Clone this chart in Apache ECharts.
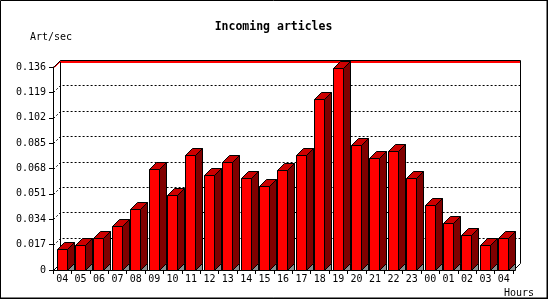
<!DOCTYPE html>
<html>
<head>
<meta charset="utf-8">
<script src="https://cdn.jsdelivr.net/npm/echarts@6/dist/echarts.min.js"></script>
<style>html,body{margin:0;padding:0;background:#fff}#c{width:550px;height:300px}</style>
</head>
<body>
<div id="c"></div>
<script>
const categories = ['04','05','06','07','08','09','10','11','12','13','14','15','16','17','18','19','20','21','22','23','00','01','02','03','04'];
const values = [0.0139, 0.0165, 0.0212, 0.0293, 0.0407, 0.0675, 0.0500, 0.0768, 0.0636, 0.0721, 0.0614, 0.0561, 0.0668, 0.0768, 0.1146, 0.1351, 0.0835, 0.0748, 0.0795, 0.0614, 0.0433, 0.0313, 0.0232, 0.0165, 0.0212];
const yMin = 0;
const yMax = 0.136;
const yStep = 0.017;
const gridTicks = [0.017, 0.034, 0.051, 0.068, 0.085, 0.102, 0.119];

const D = 7;
const FONT = '"DejaVu Sans Mono", monospace';
const r = x => Math.round(x) + 0.5;

const chart = echarts.init(document.getElementById('c'), null, {renderer: 'canvas'});

function gridRender(params, api) {
  const v = api.value(1);
  const p = api.coord([0, v]);
  const bw = api.size([1, 0])[0];
  const left = Math.round(p[0] - bw / 2);
  const right = Math.round(api.coord([categories.length - 1, v])[0] + bw / 2);
  const y = Math.round(p[1]);
  return {
    type: 'polyline',
    shape: {points: [[left + 0.5, y + 0.5], [left + D + 0.5, y - D + 0.5], [right + D + 0.5, y - D + 0.5]]},
    style: {stroke: '#000', fill: null, lineWidth: 1, lineDash: [2, 2]}
  };
}

function frameRender(params, api) {
  const bw = api.size([1, 0])[0];
  const pt = api.coord([0, yMax]);
  const pb = api.coord([0, yMin]);
  const left = Math.round(pt[0] - bw / 2);
  const right = Math.round(api.coord([categories.length - 1, yMax])[0] + bw / 2);
  const top = Math.round(pt[1]);
  const bot = Math.round(pb[1]);
  const ln = (x1, y1, x2, y2, c) => ({type: 'line', shape: {x1: x1, y1: y1, x2: x2, y2: y2}, style: {stroke: c || '#000', lineWidth: 1}});
  return {
    type: 'group',
    children: [
      ln(left + D + 0.5, bot - D + 0.5, left + D + 0.5, top - D + 0.5),
      ln(right + D + 0.5, bot - D + 0.5, right + D + 0.5, top - D + 0.5),
      ln(left + 1.5, top + 0.5, left + D + 1.5, top - D + 0.5, '#ff0000'),
      ln(left + 0.5, top + 0.5, left + D + 0.5, top - D + 0.5),
      ln(left + D + 0.5, top - D + 0.5, right + D + 0.5, top - D + 0.5),
      {type: 'rect', shape: {x: left + D + 1, y: top - D + 1, width: right - left - 1, height: 2}, style: {fill: '#ff0000', stroke: null}},
      ln(left + 0.5, bot + 0.5, left + D + 0.5, bot - D + 0.5),
      ln(right + 0.5, bot + 0.5, right + D + 0.5, bot - D + 0.5)
    ]
  };
}

function barRender(params, api) {
  const i = api.value(0);
  const v = api.value(1);
  const pt = api.coord([i, v]);
  const pb = api.coord([i, yMin]);
  const bw = api.size([1, 0])[0];
  const L = pt[0] - bw / 2;
  const x0 = r(L + 3.5);
  const x1 = x0 + 10;
  const yt = r(pt[1]);
  const yb = r(pb[1]);
  const st = {stroke: '#000', lineWidth: 1};
  return {
    type: 'group',
    children: [
      {type: 'polygon', shape: {points: [[x1, yb], [x1 + D, yb - D], [x1 + D, yb]]}, style: Object.assign({fill: '#8c8c8c'}, st)},
      {type: 'polygon', shape: {points: [[x1, yt], [x1 + D, yt - D], [x1 + D, yb - D], [x1, yb]]}, style: Object.assign({fill: '#800000'}, st)},
      {type: 'polygon', shape: {points: [[x0, yt], [x0 + D, yt - D], [x1 + D, yt - D], [x1, yt]]}, style: Object.assign({fill: '#cc0000'}, st)},
      {type: 'polygon', shape: {points: [[x0, yt], [x1, yt], [x1, yb], [x0, yb]]}, style: Object.assign({fill: '#ff0000'}, st)}
    ]
  };
}

const option = {
  animation: false,
  backgroundColor: '#ffffff',
  grid: {left: 53, right: 37, top: 67, bottom: 30, containLabel: false},
  xAxis: {
    type: 'category',
    data: categories,
    boundaryGap: true,
    axisLine: {show: true, lineStyle: {color: '#000', width: 1}},
    axisTick: {show: true, length: 4, lineStyle: {color: '#000'}},
    axisLabel: {color: '#000', fontFamily: FONT, fontSize: 10, margin: 4, interval: 0},
    splitLine: {show: false}
  },
  yAxis: {
    type: 'value',
    min: yMin,
    max: yMax,
    interval: yStep,
    axisLine: {show: true, lineStyle: {color: '#000', width: 1}},
    axisTick: {show: true, length: 4, lineStyle: {color: '#000'}},
    axisLabel: {color: '#000', fontFamily: FONT, fontSize: 10, margin: 7,
      formatter: v => (Math.abs(v) < 1e-9 ? '0' : v.toFixed(3))},
    splitLine: {show: false}
  },
  graphic: [
    {type: 'rect', shape: {x: 0.5, y: 0.5, width: 546.5, height: 297.5}, style: {fill: null, stroke: '#000', lineWidth: 1}, z: 100},
    {type: 'line', shape: {x1: 547.5, y1: 0, x2: 547.5, y2: 299}, style: {stroke: '#000', lineWidth: 1}, z: 100},
    {type: 'line', shape: {x1: 0, y1: 298.5, x2: 548, y2: 298.5}, style: {stroke: '#000', lineWidth: 1}, z: 100},
    {type: 'text', x: 273.5, y: 27, style: {text: 'Incoming articles', font: 'bold 11.5px ' + FONT, fill: '#000', textAlign: 'center', textVerticalAlign: 'middle'}},
    {type: 'text', x: 30, y: 37, style: {text: 'Art/sec', font: '10px ' + FONT, fill: '#000', textAlign: 'left', textVerticalAlign: 'middle'}},
    {type: 'text', x: 504, y: 293, style: {text: 'Hours', font: '10px ' + FONT, fill: '#000', textAlign: 'left', textVerticalAlign: 'middle'}}
  ],
  series: [
    {type: 'custom', name: 'grid', renderItem: gridRender, data: gridTicks.map(v => [0, v]), z: 1, clip: false, silent: true},
    {type: 'custom', name: 'frame', renderItem: frameRender, data: [[0, yMin]], z: 2, clip: false, silent: true},
    {type: 'custom', name: 'Art/sec', renderItem: barRender, data: values.map((v, i) => [i, v]), z: 3, clip: false}
  ]
};
chart.setOption(option);
</script>
</body>
</html>
